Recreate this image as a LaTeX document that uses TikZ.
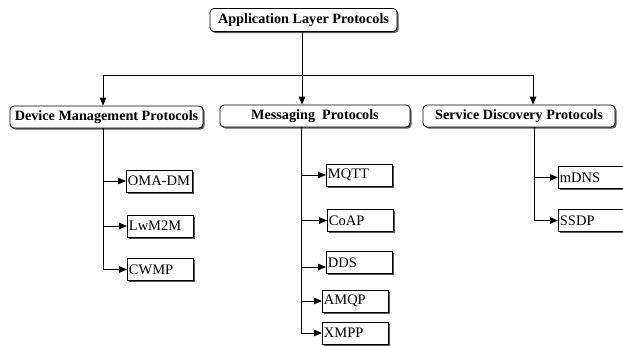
\documentclass[tikz,border=0pt]{standalone}
\usepackage{fontspec}
\setmainfont{Liberation Serif}
\usetikzlibrary{arrows.meta,shadows}
\begin{document}
\begin{tikzpicture}[x=1pt,y=-1pt,
  line width=0.8pt,
  arr/.style={-{Triangle[length=8pt,width=6.5pt]}},
  head/.style={draw,rounded corners=4pt,fill=white,font=\bfseries\fontsize{14.2}{16}\selectfont,
    inner sep=0pt,
    drop shadow={shadow xshift=1.6pt,shadow yshift=-1.6pt,fill=black!65,opacity=1}},
  leaf/.style={draw,fill=white,anchor=west,font=\fontsize{14.5}{16}\selectfont,
    minimum height=22pt,text width=63pt,align=left,inner xsep=1.5pt,inner ysep=0pt,
    drop shadow={shadow xshift=1.6pt,shadow yshift=-1.6pt,fill=black!65,opacity=1}}]
\useasboundingbox (0,0) rectangle (623,345);

% headers
\node[head,minimum width=187pt,minimum height=23pt] (app) at (303.5,20) {Application Layer Protocols};
\node[head,minimum width=193pt,minimum height=22pt] (dev) at (106.5,117) {Device Management Protocols};
\node[head,minimum width=190pt,minimum height=22pt] (msg) at (315,116) {Messaging\ \ Protocols};
\node[head,minimum width=192pt,minimum height=22pt] (sd) at (519,116) {Service Discovery Protocols};

% distribution bar
\coordinate (barL) at (103,75);
\coordinate (barR) at (533,75);
\draw (barL) -- (barR);
\draw[arr] (app.south -| 302,0) -- (msg.north -| 302,0);
\draw[arr] (barL) -- (dev.north -| barL);
\draw[arr] (barR) -- (sd.north -| barR);

% device management
\node[leaf] (oma) at (126,181) {OMA-DM};
\node[leaf] (lwm) at (127,226) {LwM2M};
\node[leaf] (cwmp) at (127,269.5) {CWMP};
\coordinate (ds) at (103,128);
\draw[arr] (ds) |- (cwmp.west);
\draw[arr] (ds |- oma.west) -- (oma.west);
\draw[arr] (ds |- lwm.west) -- (lwm.west);

% messaging
\node[leaf] (mqtt) at (326,175) {MQTT};
\node[leaf] (coap) at (327,220.5) {CoAP};
\node[leaf] (dds) at (326,262.5) {DDS};
\node[leaf] (amqp) at (322,301) {AMQP};
\node[leaf] (xmpp) at (322,333) {XMPP};
\coordinate (ms) at (301,127);
\coordinate (ddsin) at (301,267);
\draw[arr] (ms) |- (xmpp.west);
\draw[arr] (ms |- mqtt.west) -- (mqtt.west);
\draw[arr] (ms |- coap.west) -- (coap.west);
\draw[arr] (ddsin) -- (ddsin -| dds.west);
\draw[arr] (ms |- amqp.west) -- (amqp.west);

% service discovery
\node[leaf] (mdns) at (558,177.5) {mDNS};
\node[leaf] (ssdp) at (558,220.5) {SSDP};
\coordinate (ss) at (534,127);
\draw[arr] (ss) |- (ssdp.west);
\draw[arr] (ss |- mdns.west) -- (mdns.west);
\end{tikzpicture}
\end{document}
